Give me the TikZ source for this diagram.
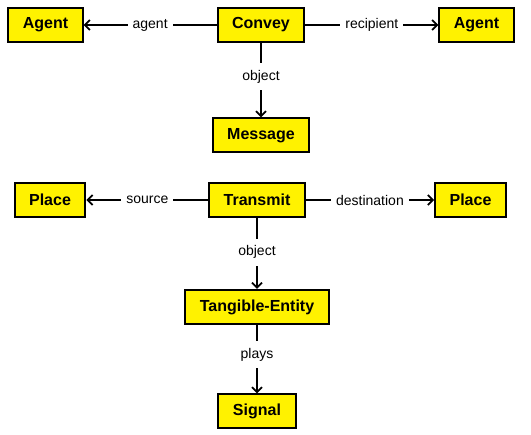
\documentclass[tikz,border=0pt]{standalone}
\usepackage{fontspec}
\setmainfont{Liberation Sans}
\usetikzlibrary{arrows.meta, positioning}

\tikzset{
  concept/.style={draw=black, line width=2pt, fill=yellow, minimum height=34pt,
    inner xsep=14.5pt, font=\bfseries\fontsize{16}{19}\selectfont},
  rel/.style={fill=white, inner xsep=5pt, inner ysep=7pt, font=\fontsize{14}{17}\selectfont},
  arr/.style={line width=1.8pt, -{Straight Barb[length=5pt, width=10pt, line width=1.8pt]}}
}

\begin{document}
\begin{tikzpicture}[x=1pt, y=-1pt]
  \useasboundingbox (0,0) rectangle (531,435);

  % convey frame
  \node[concept] (convey) at (261,25) {Convey};
  \node[concept] (agentL) at (45.5,25) {Agent};
  \node[concept] (agentR) at (476.5,25) {Agent};
  \node[concept] (message) at (261,135.5) {Message};
  \draw[arr] (convey) -- node[rel] {agent} (agentL);
  \draw[arr] (convey) -- node[rel] {recipient} (agentR);
  \draw[arr] (convey) -- node[rel, pos=0.45] {object} (message);

  % transmit frame
  \node[concept] (transmit) at (257,200) {Transmit};
  \node[concept] (placeL) at (50,200) {Place};
  \node[concept] (placeR) at (470.5,200) {Place};
  \node[concept] (entity) at (257,307) {Tangible-Entity};
  \node[concept] (signal) at (257,411.5) {Signal};
  \draw[arr] (transmit) -- node[rel] {source} (placeL);
  \draw[arr] (transmit) -- node[rel] {destination} (placeR);
  \draw[arr] (transmit) -- node[rel, pos=0.48] {object} (entity);
  \draw[arr] (entity) -- node[rel, pos=0.43] {plays} (signal);
\end{tikzpicture}
\end{document}
